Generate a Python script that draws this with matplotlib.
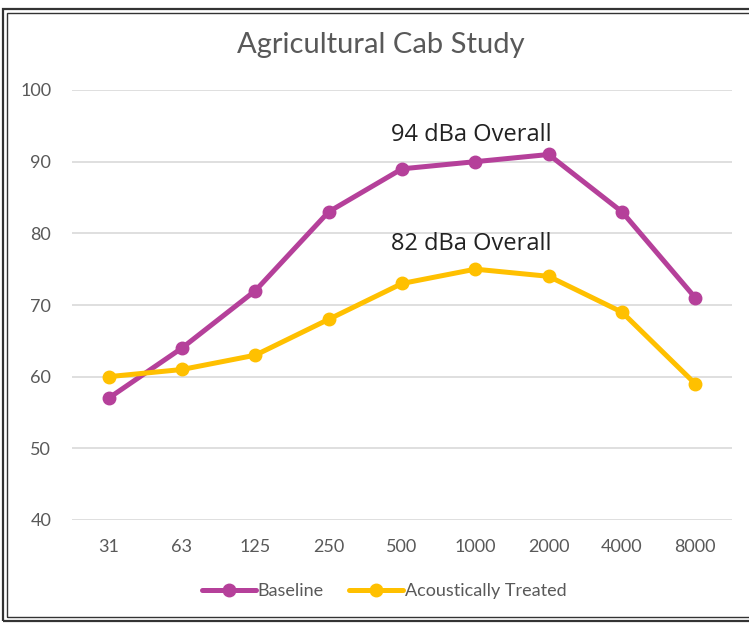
import matplotlib.pyplot as plt
from matplotlib.patches import Rectangle

bands = ["31", "63", "125", "250", "500", "1000", "2000", "4000", "8000"]
baseline = [57, 64, 72, 83, 89, 90, 91, 83, 71]
treated = [60, 61, 63, 68, 73, 75, 74, 69, 59]
y_ticks = [40, 50, 60, 70, 80, 90, 100]

purple = "#B5409A"
yellow = "#FFC000"
grey = "#595959"

plt.rcParams["font.family"] = ["Lato", "DejaVu Sans"]

fig = plt.figure(figsize=(7.49, 6.24), dpi=100)
W, H = 749, 624

# double border like the Excel chart frame
for x0, y0, lw in [(3, 3, 1.6), (7, 7, 1.0)]:
    fig.patches.append(Rectangle((x0 / W, y0 / H), (W + 20) / W, (H - 2 * y0 - 6) / H,
                                 transform=fig.transFigure, fill=False,
                                 edgecolor="#333333", linewidth=lw))

ax = fig.add_axes([72 / W, 1 - 520 / H, 660 / W, 430 / H])
x = list(range(len(bands)))
ax.plot(x, baseline, color=purple, lw=3.6, marker="o", ms=9, label="Baseline",
        solid_capstyle="round", zorder=3)
ax.plot(x, treated, color=yellow, lw=3.6, marker="o", ms=9, label="Acoustically Treated",
        solid_capstyle="round", zorder=3)

ax.set_xlim(-0.5, len(bands) - 0.5)
ax.set_ylim(40, 100)
ax.set_xticks(x)
ax.set_xticklabels(bands)
ax.set_yticks(y_ticks)
ax.grid(axis="y", color="#D9D9D9", lw=1.2)
ax.set_axisbelow(True)
for s in ax.spines.values():
    s.set_visible(False)
ax.tick_params(length=0, labelsize=13, colors=grey, pad=14)
ax.tick_params(axis="y", pad=15)

ax.text(4.95, 93.7, "94 dBa Overall", ha="center", va="center", fontsize=17,
        color="#222222", family=["Open Sans", "DejaVu Sans"])
ax.text(4.95, 78.5, "82 dBa Overall", ha="center", va="center", fontsize=17,
        color="#222222", family=["Open Sans", "DejaVu Sans"])

fig.text(381 / W, 1 - 45 / H, "Agricultural Cab Study", ha="center", va="center",
         fontsize=21, color=grey)

fig.legend(loc="center", bbox_to_anchor=(384 / W, 1 - 591 / H), ncol=2, frameon=False,
           fontsize=13, labelcolor=grey, handlelength=3.0, handletextpad=0.1,
           columnspacing=1.4)

fig.savefig("out.png", dpi=100)
